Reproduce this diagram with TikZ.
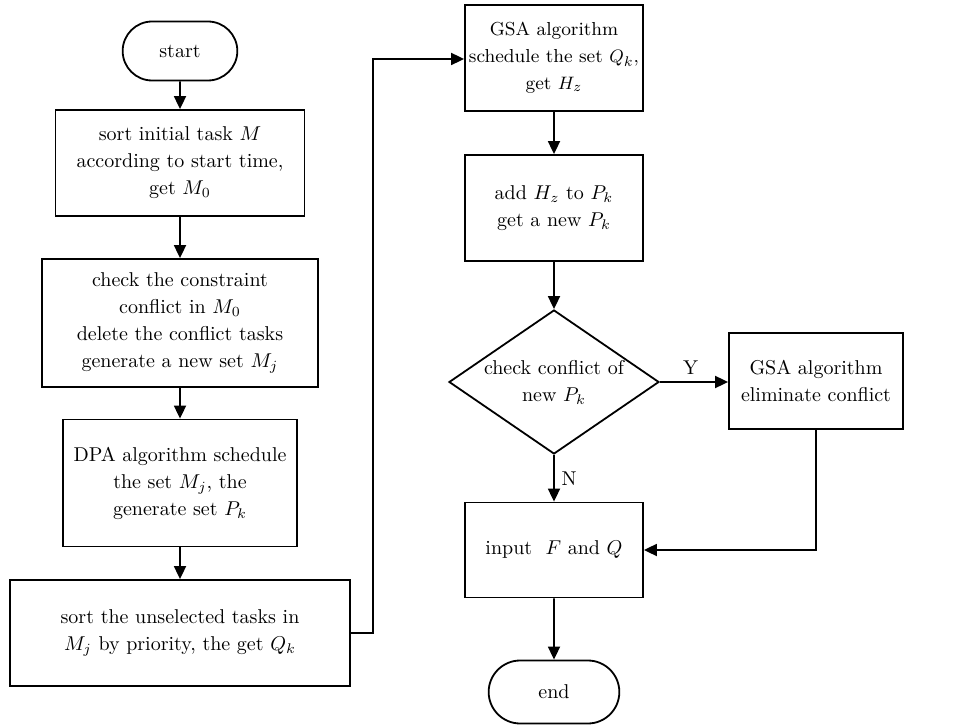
\documentclass[tikz,border=0pt]{standalone}
\usepackage{amsmath,amsfonts}
\usetikzlibrary{arrows,arrows.meta,shapes}
\tikzstyle{proc}=[rectangle,draw=black!100,line width=0.9pt,align=center,inner sep=0pt,font=\fontsize{10}{13.5}\selectfont]
\tikzstyle{term}=[rounded rectangle,draw=black!100,line width=0.9pt,font=\fontsize{10}{13.5}\selectfont]
\tikzstyle{dec}=[diamond,draw=black!100,line width=0.9pt,align=center,inner sep=0pt,aspect=1.46,font=\fontsize{10}{13.5}\selectfont]
\tikzstyle{fgraph}=[-{Triangle[length=6.5pt,width=6pt]}, line width=0.9pt]

\begin{document}
\begin{tikzpicture}[x=0.5pt,y=-0.5pt,fgraph]
\useasboundingbox (0,0) rectangle (959,727);
\node[term,minimum width=64pt,minimum height=29.5pt] (start) at (180,51) {start};
\node[proc,minimum width=124.5pt,minimum height=53pt] (sortM) at (180,163) {sort initial task $M$\\according to start time,\\get $M_0$};
\node[proc,minimum width=138pt,minimum height=64pt] (check) at (180,323) {check the constraint\\conflict in $M_0$\\delete the conflict tasks\\generate a new set $M_j$};
\node[proc,minimum width=117pt,minimum height=63.5pt] (dpa) at (180,483) {DPA algorithm schedule\\the set $M_j$, the\\generate set $P_k$};
\node[proc,minimum width=170pt,minimum height=53pt] (sortQ) at (180,633) {sort the unselected tasks in\\$M_j$ by priority, the get $Q_k$};
\node[proc,minimum width=89pt,minimum height=53pt,font=\fontsize{9.4}{13.5}\selectfont] (gsa) at (554,58) {GSA algorithm\\schedule the set $Q_k$,\\get $H_z$};
\node[proc,minimum width=89pt,minimum height=53pt] (add) at (554,208) {add $H_z$ to $P_k$\\get a new $P_k$};
\node[dec,minimum width=105pt,minimum height=72pt] (conf) at (554,382) {check conflict of\\new $P_k$};
\node[proc,minimum width=87pt,minimum height=48pt] (elim) at (816,381) {GSA algorithm\\eliminate conflict};
\node[proc,minimum width=89pt,minimum height=47.5pt] (inp) at (554,550) {input~ $F$ and $Q$};
\node[term,minimum width=72pt,minimum height=31.5pt] (end) at (554,692) {end};
\coordinate (loop) at (373,59);
\draw (start)--(sortM);
\draw (sortM)--(check);
\draw (check)--(dpa);
\draw (dpa)--(sortQ);
\draw (sortQ.east) -| (loop) -- (gsa.west |- loop);
\draw (gsa)--(add);
\draw (add)--(conf);
\draw (conf.east) -- node[above,font=\fontsize{10}{12}\selectfont,pos=0.45] {Y} (elim.west |- conf.east);
\draw (conf.south) -- node[right,font=\fontsize{10}{12}\selectfont] {N} (inp.north);
\draw (elim.south) |- (inp.east);
\draw (inp)--(end);
\end{tikzpicture}
\end{document}
